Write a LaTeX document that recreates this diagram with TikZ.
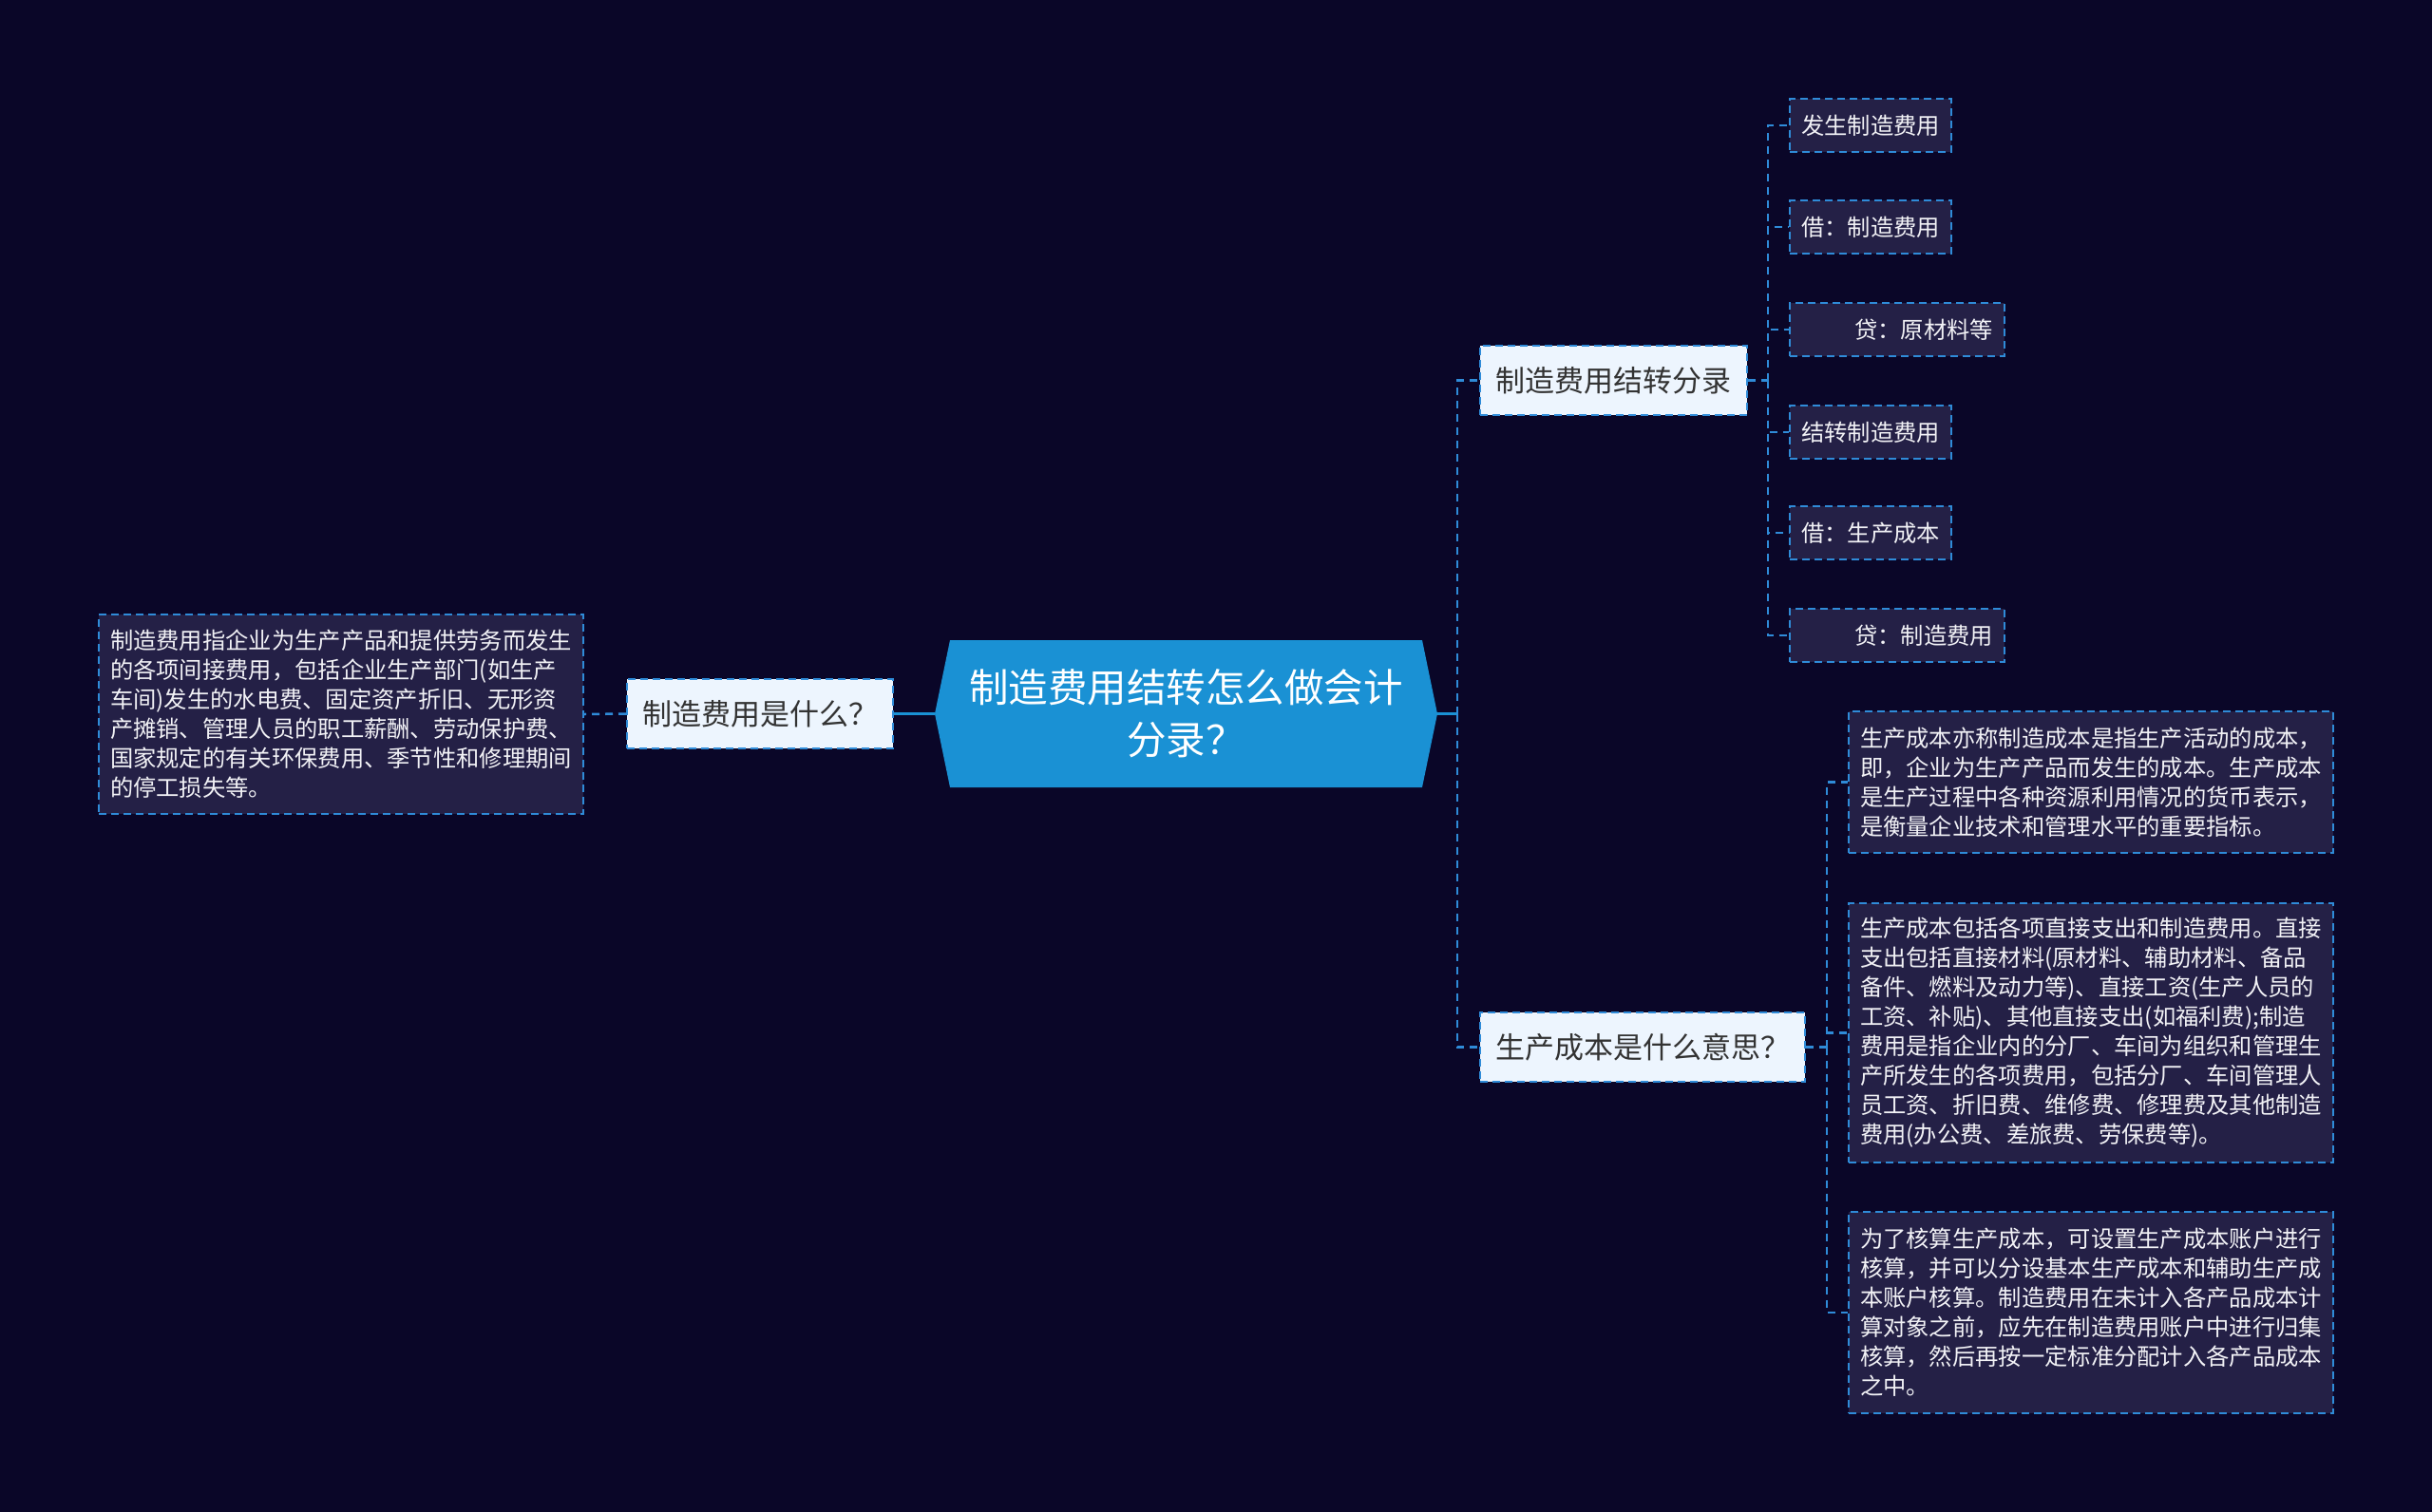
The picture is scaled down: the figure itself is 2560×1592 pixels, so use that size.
\documentclass[tikz,border=0pt]{standalone}
\usepackage{fontspec}
\setmainfont{Noto Sans CJK SC}
\definecolor{cbg}{RGB}{10,6,40}
\definecolor{cleaf}{RGB}{36,32,70}
\definecolor{cborder}{RGB}{47,139,216}
\definecolor{cmain}{RGB}{26,145,212}
\definecolor{ctopic}{RGB}{237,245,254}
\definecolor{ctext}{RGB}{51,51,51}
\definecolor{cleaftext}{RGB}{242,242,246}
\tikzset{
  boxdash/.style={dash pattern=on 8pt off 5pt, line width=2pt},
  leafbox/.style={draw=cborder, boxdash, fill=cleaf, text=cleaftext,
    font=\fontsize{24.3}{31}\selectfont, inner xsep=12pt, inner ysep=0pt},
  longleaf/.style={leafbox, text width=486pt, align=left},
  shortleaf/.style={leafbox, minimum width=170pt, minimum height=56pt},
  indleaf/.style={leafbox, text width=202pt, align=right, minimum height=56pt},
  topicbox/.style={draw=cborder, boxdash, fill=ctopic, text=ctext,
    font=\fontsize{31}{36}\selectfont, inner sep=0pt, minimum height=73pt},
  link/.style={draw=cborder, line width=2.5pt, dash pattern=on 8pt off 6pt},
  mainlink/.style={draw=cmain, line width=3.5pt},
}
\begin{document}
\begin{tikzpicture}[x=1pt,y=-1pt]
\useasboundingbox (0,0) rectangle (2560,1592);
\fill[cbg] (0,0) rectangle (2560,1592);

% center node
\node[minimum width=529pt, minimum height=155pt, inner sep=0pt, text=white,
  font=\fontsize{41.5}{55}\selectfont, align=center,
  path picture={\fill[cmain]
    ([xshift=16pt]path picture bounding box.north west) --
    ([xshift=-16pt]path picture bounding box.north east) --
    (path picture bounding box.east) --
    ([xshift=-16pt]path picture bounding box.south east) --
    ([xshift=16pt]path picture bounding box.south west) --
    (path picture bounding box.west) -- cycle;}]
  (c) at (1248.5,751.5) {制造费用结转怎么做会计\\分录？};

% left branch
\node[topicbox, minimum width=280pt] (L) at (800,751.5) {制造费用是什么？};
\node[longleaf, minimum height=210pt] (LL) at (359,752) {制造费用指企业为生产产品和提供劳务而发生\\的各项间接费用，包括企业生产部门(如生产\\车间)发生的水电费、固定资产折旧、无形资\\产摊销、管理人员的职工薪酬、劳动保护费、\\国家规定的有关环保费用、季节性和修理期间\\的停工损失等。};

% right topics
\node[topicbox, minimum width=281pt] (T1) at (1698.5,400.5) {制造费用结转分录};
\node[topicbox, minimum width=342pt] (T2) at (1729,1102.5) {生产成本是什么意思？};

% T1 leaves
\node[shortleaf] (R1) at (1969,132) {发生制造费用};
\node[shortleaf] (R2) at (1969,239) {借：制造费用};
\node[indleaf] (R3) at (1997,347) {贷：原材料等};
\node[shortleaf] (R4) at (1969,455) {结转制造费用};
\node[shortleaf] (R5) at (1969,561) {借：生产成本};
\node[indleaf] (R6) at (1997,669) {贷：制造费用};

% T2 leaves
\node[longleaf, minimum height=149pt] (Sa) at (2201,823.5) {生产成本亦称制造成本是指生产活动的成本，\\即，企业为生产产品而发生的成本。生产成本\\是生产过程中各种资源利用情况的货币表示，\\是衡量企业技术和管理水平的重要指标。};
\node[longleaf, minimum height=273pt] (Sb) at (2201,1087.5) {生产成本包括各项直接支出和制造费用。直接\\支出包括直接材料(原材料、辅助材料、备品\\备件、燃料及动力等)、直接工资(生产人员的\\工资、补贴)、其他直接支出(如福利费);制造\\费用是指企业内的分厂、车间为组织和管理生\\产所发生的各项费用，包括分厂、车间管理人\\员工资、折旧费、维修费、修理费及其他制造\\费用(办公费、差旅费、劳保费等)。};
\node[longleaf, minimum height=212pt] (Sc) at (2201,1382) {为了核算生产成本，可设置生产成本账户进行\\核算，并可以分设基本生产成本和辅助生产成\\本账户核算。制造费用在未计入各产品成本计\\算对象之前，应先在制造费用账户中进行归集\\核算，然后再按一定标准分配计入各产品成本\\之中。};

% junction coordinates
\coordinate (j0) at (1534,751.5);
\coordinate (j1) at (1861,400.5);
\coordinate (j2) at (1923,1102.5);

% connectors
\draw[mainlink] (c.west) -- (L.east);
\draw[link] (L.west) -- (LL.east);
\draw[mainlink] (c.east) -- (j0);
\draw[link] (j0) |- (T1.west);
\draw[link] (j0) |- (T2.west);
\draw[link] (T1.east) -- (j1);
\foreach \n in {R1,R2,R3,R4,R5,R6} \draw[link] (j1) |- (\n.west);
\draw[link] (T2.east) -- (j2);
\foreach \n in {Sa,Sb,Sc} \draw[link] (j2) |- (\n.west);
\end{tikzpicture}
\end{document}
